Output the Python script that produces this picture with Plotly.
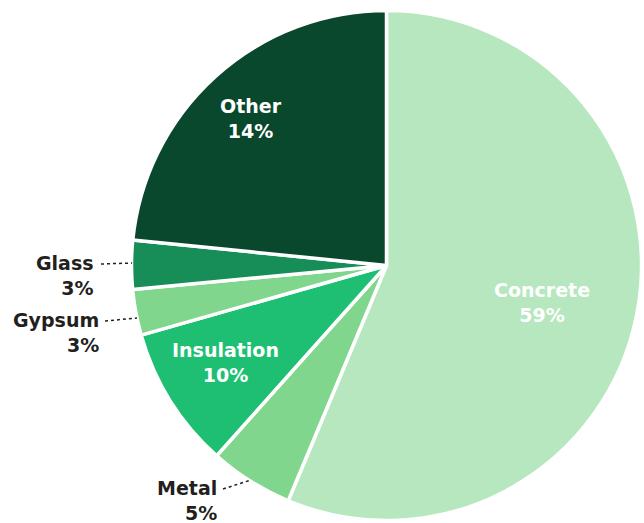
import plotly.graph_objects as go

# Data
categories = ["Concrete", "Metal", "Insulation", "Gypsum", "Glass", "Other"]
values = [56.3, 5.3, 9.0, 2.9, 3.1, 23.4]          # slice sizes
shown_pct = ["59%", "5%", "10%", "3%", "3%", "14%"]  # printed labels
colors = ["#b6e7be", "#80d68c", "#1ebf73", "#80d68c", "#178e58", "#0a482d"]

W, H = 644, 523
cx, cy, r = 386.5, 265.5, 255

def px(x, y):
    return x / W, 1 - y / H

fig = go.Figure(go.Pie(
    labels=categories, values=values, sort=False, direction="clockwise", rotation=0,
    marker=dict(colors=colors, line=dict(color="white", width=3.5)),
    textinfo="none", hoverinfo="label+percent", showlegend=False,
    domain=dict(x=[(cx - r) / W, (cx + r) / W], y=[1 - (cy + r) / H, 1 - (cy - r) / H]),
))

fontfam = "DejaVu Sans, Open Sans, sans-serif"
# label placements: (x, y, anchor, color)
place = {
    "Concrete": (542, 302, "center", "white"),
    "Other": (251, 119, "center", "white"),
    "Insulation": (225, 362, "center", "white"),
    "Glass": (96, 275, "right", "#231f20"),
    "Gypsum": (101, 332, "right", "#231f20"),
    "Metal": (219, 500, "right", "#231f20"),
}
annotations = []
for cat, pct in zip(categories, shown_pct):
    x, y, anc, col = place[cat]
    ax, ay = px(x, y)
    annotations.append(dict(
        x=ax, y=ay, xref="paper", yref="paper", xanchor=anc, yanchor="middle",
        text=f"<b>{cat}</b><br><b>{pct}</b>", showarrow=False, align=anc,
        font=dict(family=fontfam, size=19, color=col),
    ))

shapes = []
for (x0, y0, x1, y1) in [(101, 264, 132, 263), (105, 321, 137, 318), (223, 489, 251, 480)]:
    a0, b0 = px(x0, y0)
    a1, b1 = px(x1, y1)
    shapes.append(dict(type="line", xref="paper", yref="paper", x0=a0, y0=b0, x1=a1, y1=b1,
                       line=dict(color="#231f20", width=1.5, dash="dot")))

fig.update_layout(
    width=W, height=H, margin=dict(l=0, r=0, t=0, b=0),
    paper_bgcolor="white", plot_bgcolor="white",
    annotations=annotations, shapes=shapes,
)
fig.write_html("out.html")
